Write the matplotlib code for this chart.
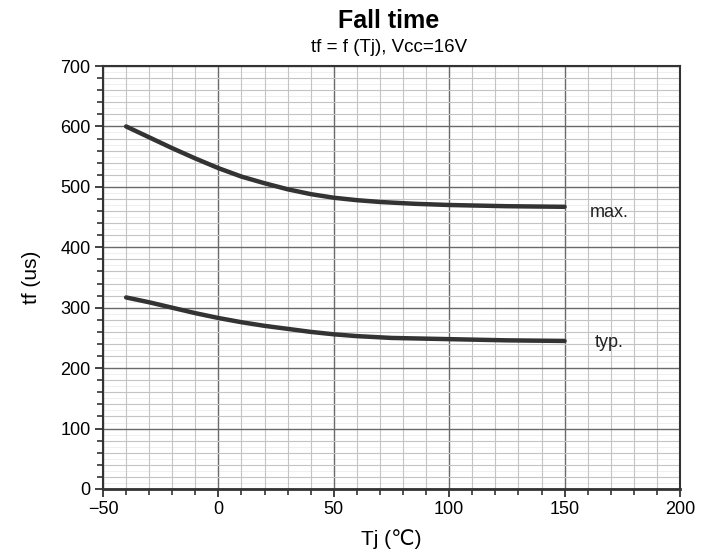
import matplotlib
matplotlib.use("Agg")
import matplotlib.pyplot as plt
from matplotlib.ticker import MultipleLocator

plt.rcParams['font.family'] = ['Liberation Sans', 'DejaVu Sans']

tj_max = [-40, -30, -20, -10, 0, 10, 20, 30, 40, 50, 60, 70, 85, 100, 125, 150]
tf_max = [600, 582, 564, 547, 531, 517, 506, 496, 488, 482, 478, 475, 472, 470, 468, 467]
tj_typ = [-40, -30, -20, -10, 0, 10, 20, 30, 40, 50, 60, 75, 100, 125, 150]
tf_typ = [317, 309, 300, 291, 283, 276, 270, 265, 260, 256, 253, 250, 248, 246, 245]
x_ticks = [-50, 0, 50, 100, 150, 200]
y_ticks = [0, 100, 200, 300, 400, 500, 600, 700]

fig = plt.figure(figsize=(7.13, 5.6), dpi=100)
ax = fig.add_axes([0.1445, 0.1268, 0.8092, 0.7553])

ax.set_xlim(-50, 200)
ax.set_ylim(0, 700)
ax.set_xticks(x_ticks)
ax.set_yticks(y_ticks)
ax.xaxis.set_minor_locator(MultipleLocator(10))
ax.yaxis.set_minor_locator(MultipleLocator(20))

# faint 10-unit horizontal lines
for v in range(10, 700, 20):
    ax.axhline(v, color='#ededed', lw=0.6, zorder=0)
ax.grid(which='minor', color='#c4c4c4', lw=0.8, zorder=0.5)
ax.grid(which='major', color='#6a6a6a', lw=1.0, zorder=0.6)

ax.plot(tj_max, tf_max, color='#333333', lw=3.2, solid_capstyle='round', zorder=3)
ax.plot(tj_typ, tf_typ, color='#333333', lw=3.2, solid_capstyle='round', zorder=3)

ax.text(161, 457, 'max.', fontsize=13, color='#222222', va='center', ha='left')
ax.text(163, 242, 'typ.', fontsize=13, color='#222222', va='center', ha='left')

for s in ax.spines.values():
    s.set_color('#333333')
    s.set_linewidth(1.5)
ax.spines['bottom'].set_linewidth(2.0)

ax.tick_params(which='major', direction='out', length=6, width=1.3, color='#333333',
               labelsize=13, pad=3)
ax.tick_params(which='minor', direction='out', length=4, width=1.2, color='#333333')

ax.set_xlabel('Tj (\u2103)', fontsize=15, labelpad=8)
ax.set_ylabel('tf (us)', fontsize=15, labelpad=14)

fig.text(0.545, 0.963, 'Fall time', ha='center', va='center', fontsize=18, fontweight='bold')
fig.text(0.545, 0.916, 'tf = f (Tj), Vcc=16V', ha='center', va='center', fontsize=13.5)

fig.savefig('out.png', dpi=100)
